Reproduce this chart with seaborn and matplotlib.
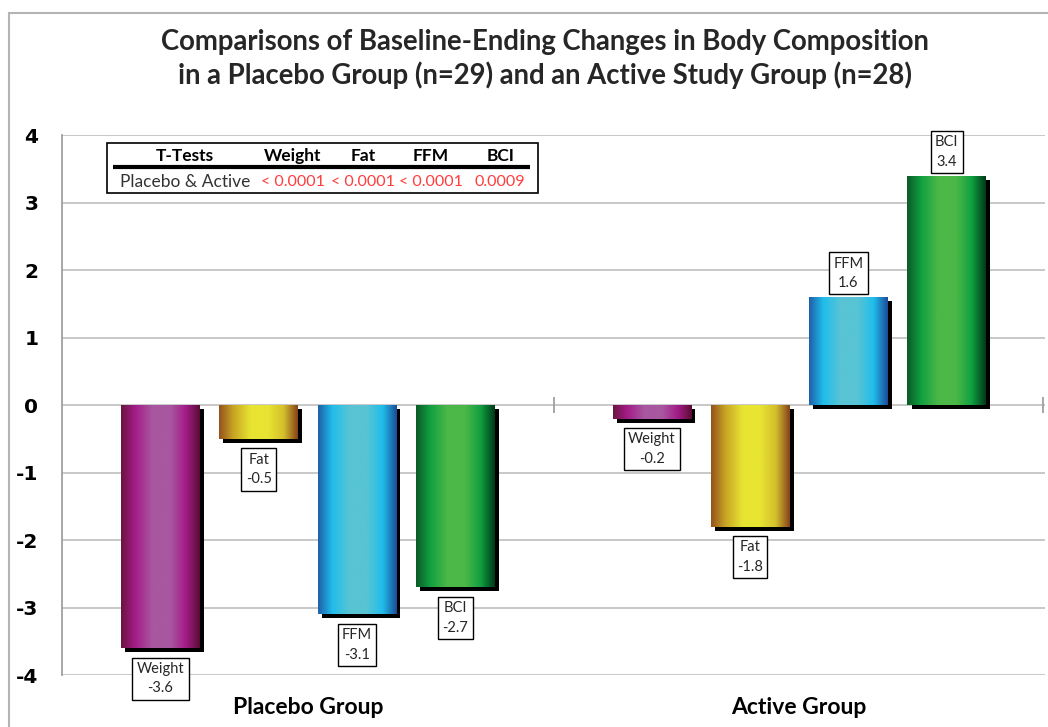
import matplotlib
matplotlib.use("Agg")
import matplotlib.pyplot as plt
import matplotlib.patheffects as pe
from matplotlib.colors import LinearSegmentedColormap
from matplotlib.patches import Rectangle
import numpy as np
import pandas as pd
import seaborn as sns

# ---- data ----
groups = ["Placebo Group", "Active Group"]
measures = ["Weight", "Fat", "FFM", "BCI"]
placebo_changes = [-3.6, -0.5, -3.1, -2.7]
active_changes = [-0.2, -1.8, 1.6, 3.4]

ttest_header = ["T-Tests", "Weight", "Fat", "FFM", "BCI"]
ttest_row_label = "Placebo & Active"
ttest_pvalues = ["< 0.0001", "< 0.0001", "< 0.0001", "0.0009"]

y_ticks = [-4, -3, -2, -1, 0, 1, 2, 3, 4]

# cylinder-style horizontal gradients for each measure (left -> right)
GRADIENTS = {
    "Weight": ["#6c1440", "#a41c88", "#a858a0", "#a858a0", "#a41c88", "#5a0c34"],
    "Fat": ["#94521c", "#c8a424", "#e8e432", "#e8e432", "#d4c02c", "#86421a"],
    "FFM": ["#1f5ea8", "#20bdec", "#58c4d4", "#58c4d4", "#20bdec", "#1c4c98"],
    "BCI": ["#0c5a28", "#10a040", "#4cb848", "#4cb848", "#10a040", "#003818"],
}
GRAD_POS = [0.0, 0.18, 0.4, 0.62, 0.82, 1.0]

df = pd.DataFrame({
    "group": np.repeat(groups, len(measures)),
    "measure": measures * len(groups),
    "change": placebo_changes + active_changes,
})

sns.set_theme(style="white")
plt.rcParams["font.family"] = ["Lato", "DejaVu Sans"]

fig = plt.figure(figsize=(10.48, 7.27), dpi=100)
ax = fig.add_axes([0.0592, 0.0715, 0.938, 0.7428])

base_palette = {m: GRADIENTS[m][2] for m in measures}
sns.barplot(data=df, x="group", y="change", hue="measure", order=groups,
            hue_order=measures, palette=base_palette, width=0.8, gap=0.2,
            legend=False, ax=ax, linewidth=0, saturation=1)

ax.set_axisbelow(True)
ax.yaxis.grid(True, color="#c4c4c4", linewidth=1.3)
ax.xaxis.grid(False)

# gradient fill + drop shadow on each bar, and value labels
grad = np.linspace(0, 1, 256).reshape(1, -1)
box_style = dict(boxstyle="square,pad=0.3", fc="white", ec="black", lw=1)
for measure, container in zip(measures, ax.containers):
    cmap = LinearSegmentedColormap.from_list(
        measure, list(zip(GRAD_POS, GRADIENTS[measure])))
    for patch in container.patches:
        x0, y0 = patch.get_x(), patch.get_y()
        w, h = patch.get_width(), patch.get_height()
        patch.set_zorder(2)
        patch.set_path_effects([
            pe.SimplePatchShadow(offset=(3, -3), shadow_rgbFace="black", alpha=1.0),
            pe.Normal(),
        ])
        im = ax.imshow(grad, cmap=cmap, aspect="auto", interpolation="bicubic",
                       extent=(x0, x0 + w, y0, y0 + h), zorder=2.1)
        im.set_clip_path(patch)
        value = y0 + h
        cx = x0 + w / 2
        if value >= 0:
            ax.annotate(f"{measure}\n{value:.1f}", xy=(cx, value), xytext=(0, 5),
                        textcoords="offset points", ha="center", va="bottom",
                        fontsize=10.5, linespacing=1.5, zorder=5, bbox=box_style)
        else:
            ax.annotate(f"{measure}\n{value:.1f}", xy=(cx, value), xytext=(0, -10),
                        textcoords="offset points", ha="center", va="top",
                        fontsize=10.5, linespacing=1.5, zorder=5, bbox=box_style)

ax.set_xlim(-0.5, 1.5)
ax.set_ylim(-4, 4)
ax.set_yticks(y_ticks)
ax.set_yticklabels([str(t) for t in y_ticks], fontfamily="DejaVu Sans",
                   fontweight="bold", fontsize=14.5, color="black")

# axes styling
for side in ["top", "right", "bottom"]:
    ax.spines[side].set_visible(False)
ax.spines["left"].set_color("#a0a0a0")
ax.spines["left"].set_linewidth(1.3)
ax.tick_params(axis="y", length=7, width=1.2, color="#a0a0a0", direction="out", pad=10)
ax.tick_params(axis="x", length=0, pad=16)
for lab in ax.get_xticklabels():
    lab.set_fontsize(16.5)
    lab.set_fontweight("bold")
    lab.set_color("black")
ax.set_xlabel("")
ax.set_ylabel("")

# category boundary tick marks on the zero axis
ax.vlines([0.5, 1.495], -0.12, 0.12, color="#a0a0a0", lw=1.3, zorder=1.5)

# t-test table
ax.add_patch(Rectangle((0.0458, 0.8926), 0.4384, 0.0924, transform=ax.transAxes,
                       fc="white", ec="black", lw=1.2, zorder=6))
ax.plot([0.0519, 0.476], [0.9407, 0.9407], transform=ax.transAxes, color="black",
        lw=3, zorder=7, solid_capstyle="butt")
col_x = [0.1251, 0.235, 0.306, 0.3754, 0.4456]
for cx, head in zip(col_x, ttest_header):
    ax.text(cx, 0.962, head, transform=ax.transAxes, ha="center", va="center",
            fontsize=12.5, fontweight="bold", color="black", zorder=7)
ax.text(col_x[0], 0.913, ttest_row_label, transform=ax.transAxes, ha="center",
        va="center", fontsize=12.5, color="#333333", zorder=7)
for cx, pv in zip(col_x[1:], ttest_pvalues):
    ax.text(cx, 0.913, pv, transform=ax.transAxes, ha="center", va="center",
            fontsize=11.5, color="#ff3b3b", zorder=7)

# title
fig.text(0.52, 0.919, "Comparisons of Baseline-Ending Changes in Body Composition\n"
         "in a Placebo Group (n=29) and an Active Study Group (n=28)",
         ha="center", va="center", fontsize=19.8, fontweight="bold", linespacing=1.3)

# outer chart border
fig.add_artist(Rectangle((9 / 1048, -0.05), 1.2, 1.05 - 13 / 727, transform=fig.transFigure,
                         fill=False, ec="#b4b4b4", lw=1.5))

fig.savefig("out.png", dpi=100)
